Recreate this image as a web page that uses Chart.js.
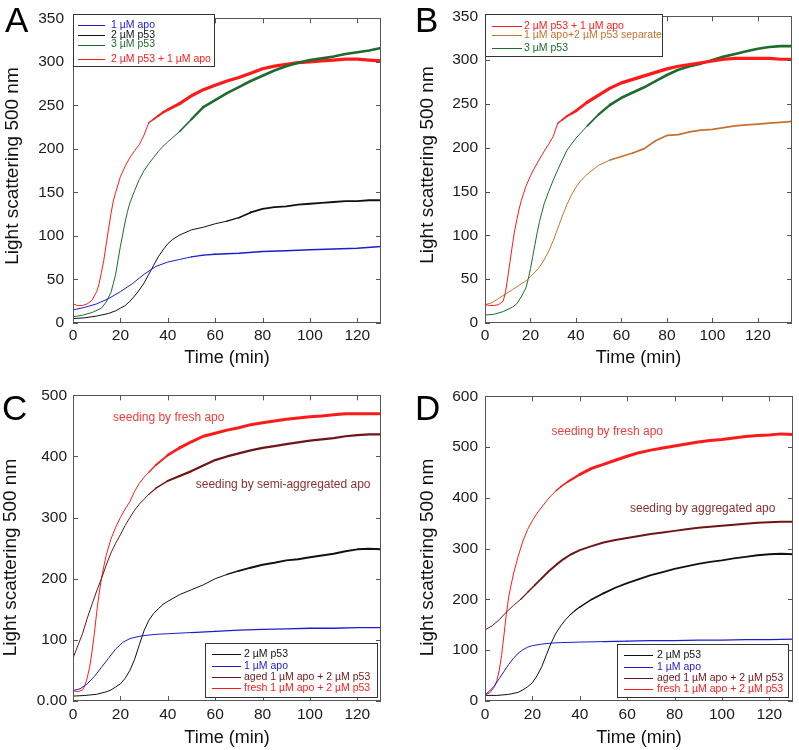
<!DOCTYPE html>
<html>
<head>
    <title>Light scattering kinetics</title>
    <style>
        body {
            margin: 0;
            background: #fff;
            font-family: "Liberation Sans", Arial, sans-serif;
        }

        #fig {
            position: relative;
            width: 799px;
            height: 750px;
            overflow: hidden;
        }

        #fig canvas {
            position: absolute;
        }

        .letter {
            position: absolute;
            font-size: 35px;
            line-height: 35px;
            color: #000;
        }
    </style>
</head>
<body>
    <div id="fig">
        <canvas id="chartA" width="400" height="369" style="left:0;top:0"></canvas>
        <canvas id="chartB" width="399" height="369" style="left:400px;top:0"></canvas>
        <canvas id="chartC" width="400" height="369" style="left:0;top:380px"></canvas>
        <canvas id="chartD" width="399" height="369" style="left:400px;top:380px"></canvas>
        <div class="letter" style="left:5px;top:2px">A</div>
        <div class="letter" style="left:415px;top:2px">B</div>
        <div class="letter" style="left:2px;top:390px">C</div>
        <div class="letter" style="left:415px;top:390px">D</div>
    </div>
    <script src="https://cdn.jsdelivr.net/npm/chart.js"></script>
    <script>
        // ---- panel A ----
        const aApoT = [0, 5, 10, 15, 20, 25, 30, 35, 40, 45, 50, 55, 60, 70, 80, 90, 100, 110, 120, 130];
        const aApo = [15, 18, 22, 28, 36, 45, 56, 65, 70, 73, 76, 78, 79, 80, 82, 83, 84, 85, 86, 88];
        const aP53T = [0, 5, 10, 15, 18, 20, 22, 24, 26, 28, 30, 32, 34, 36, 38, 40, 42, 45, 50, 55, 60, 65, 70, 75, 80, 85, 90, 95, 100, 105, 110, 115, 120, 125, 130];
        const aP53 = [5, 6, 8, 11, 14, 17, 20, 25, 31, 38, 46, 56, 66, 76, 84, 91, 96, 101, 107, 110, 114, 117, 121, 127, 131, 133, 134, 136, 137, 138, 139, 140, 140, 141, 141];
        const a3P53T = [0, 4, 8, 12, 14, 16, 17, 18, 19, 20, 21, 22, 23, 24, 26, 28, 30, 32, 34, 36, 38, 40, 45, 50, 55, 60, 65, 70, 75, 80, 85, 90, 95, 100, 105, 110, 115, 120, 125, 130];
        const a3P53 = [7, 9, 12, 17, 24, 35, 45, 56, 72, 88, 102, 116, 128, 138, 152, 165, 175, 183, 190, 197, 203, 208, 220, 234, 248, 256, 264, 271, 278, 284, 290, 295, 299, 302, 304, 306, 309, 311, 313, 316];
        const aMixT = [0, 2, 4, 6, 8, 10, 11, 12, 13, 14, 15, 16, 17, 18, 20, 22, 24, 26, 28, 30, 32, 34, 36, 38, 40, 45, 50, 55, 60, 65, 70, 75, 80, 85, 90, 95, 100, 105, 110, 115, 120, 125, 130];
        const aMix = [22, 20, 20, 22, 26, 36, 45, 58, 72, 90, 108, 125, 140, 150, 168, 180, 190, 198, 205, 216, 230, 234, 238, 242, 245, 252, 261, 268, 273, 278, 282, 287, 292, 295, 297, 299, 300, 301, 302, 303, 303, 302, 301];

        // ---- panel B ----
        const bMixT = [0, 2, 4, 6, 8, 9, 10, 11, 12, 13, 14, 15, 16, 17, 18, 20, 22, 24, 26, 28, 30, 32, 34, 36, 38, 40, 45, 50, 55, 60, 65, 70, 75, 80, 85, 90, 95, 100, 105, 110, 115, 120, 125, 130, 135];
        const bMix = [21, 20, 20, 21, 25, 35, 52, 70, 88, 105, 118, 130, 140, 148, 156, 168, 178, 187, 196, 204, 213, 228, 232, 236, 239, 242, 252, 260, 268, 274, 278, 282, 286, 290, 293, 295, 297, 299, 301, 302, 302, 302, 302, 301, 301];
        const bSepT = [0, 3, 6, 9, 12, 15, 18, 20, 22, 24, 26, 28, 30, 32, 34, 36, 38, 40, 42, 45, 50, 55, 60, 65, 70, 75, 80, 85, 90, 95, 100, 105, 110, 115, 120, 125, 130, 135];
        const bSep = [21, 23, 28, 33, 38, 43, 48, 53, 58, 64, 72, 82, 94, 108, 122, 135, 146, 155, 162, 170, 180, 186, 190, 194, 199, 208, 214, 215, 218, 220, 221, 223, 225, 226, 227, 228, 229, 230];
        const b3P53T = [0, 4, 8, 12, 14, 16, 18, 19, 20, 21, 22, 23, 24, 25, 26, 28, 30, 32, 34, 36, 38, 40, 45, 50, 55, 60, 65, 70, 75, 80, 85, 90, 95, 100, 105, 110, 115, 120, 125, 130, 135];
        const b3P53 = [9, 10, 13, 18, 22, 30, 40, 50, 62, 76, 90, 104, 116, 126, 136, 150, 163, 175, 186, 197, 204, 211, 225, 238, 249, 257, 263, 269, 276, 283, 289, 293, 296, 300, 304, 307, 310, 313, 315, 316, 316];

        // ---- panel C ----
        const cP53T = [0, 5, 10, 14, 16, 18, 20, 22, 24, 26, 28, 30, 32, 34, 36, 38, 40, 45, 50, 55, 60, 65, 70, 75, 80, 85, 90, 95, 100, 105, 110, 115, 120, 125, 130];
        const cP53 = [8, 9, 11, 15, 18, 23, 28, 37, 50, 68, 92, 115, 132, 143, 151, 158, 163, 174, 182, 190, 200, 207, 213, 218, 223, 226, 230, 232, 235, 238, 241, 245, 248, 249, 248];
        const cApoT = [0, 3, 6, 9, 12, 15, 18, 21, 24, 27, 30, 35, 40, 50, 60, 70, 80, 90, 100, 110, 120, 130];
        const cApo = [17, 20, 28, 40, 55, 70, 85, 96, 102, 105, 107, 109, 110, 112, 114, 116, 117, 118, 119, 119, 120, 120];
        const cAgedT = [0, 2, 4, 6, 8, 10, 12, 14, 16, 18, 20, 22, 24, 26, 28, 30, 32, 35, 40, 45, 50, 55, 60, 65, 70, 75, 80, 85, 90, 95, 100, 105, 110, 115, 120, 125, 130];
        const cAged = [70, 90, 110, 135, 158, 180, 200, 222, 242, 258, 272, 287, 300, 312, 322, 330, 338, 348, 360, 368, 376, 385, 394, 400, 405, 410, 414, 417, 420, 423, 426, 428, 430, 433, 435, 436, 436];
        const cFreshT = [0, 2, 4, 5, 6, 7, 8, 9, 10, 11, 12, 13, 14, 16, 18, 20, 22, 24, 26, 28, 30, 32, 35, 40, 45, 50, 55, 60, 65, 70, 75, 80, 85, 90, 95, 100, 105, 110, 115, 120, 125, 130];
        const cFresh = [17, 15, 18, 25, 38, 55, 80, 110, 145, 175, 200, 220, 238, 265, 284, 300, 314, 326, 343, 356, 366, 374, 386, 402, 414, 424, 433, 438, 443, 447, 452, 455, 458, 461, 463, 465, 466, 468, 470, 470, 470, 470];

        // ---- panel D ----
        const dP53T = [0, 5, 10, 14, 16, 18, 20, 22, 24, 26, 28, 30, 32, 34, 36, 38, 40, 45, 50, 55, 60, 65, 70, 75, 80, 85, 90, 95, 100, 105, 110, 115, 120, 125, 130];
        const dP53 = [11, 11, 13, 17, 22, 28, 36, 50, 68, 92, 115, 134, 148, 160, 170, 178, 185, 200, 212, 223, 232, 240, 248, 254, 260, 265, 270, 274, 277, 281, 284, 287, 289, 290, 289];
        const dApoT = [0, 2, 4, 6, 8, 10, 12, 14, 16, 18, 20, 24, 28, 32, 40, 50, 60, 70, 80, 90, 100, 110, 120, 130];
        const dApo = [12, 20, 30, 44, 58, 72, 84, 94, 101, 106, 109, 112, 114, 115, 116, 117, 118, 119, 119, 120, 120, 121, 121, 122];
        const dAgedT = [0, 3, 6, 9, 12, 15, 18, 21, 24, 27, 30, 33, 36, 40, 45, 50, 55, 60, 65, 70, 75, 80, 85, 90, 95, 100, 105, 110, 115, 120, 125, 130];
        const dAged = [140, 148, 160, 175, 188, 200, 214, 228, 242, 256, 268, 279, 288, 297, 305, 312, 317, 321, 325, 329, 332, 335, 338, 341, 343, 345, 347, 349, 351, 352, 353, 353];
        const dFreshT = [0, 2, 4, 5, 6, 7, 8, 9, 10, 11, 12, 14, 16, 18, 20, 22, 24, 26, 28, 30, 32, 35, 40, 45, 50, 55, 60, 65, 70, 75, 80, 85, 90, 95, 100, 105, 110, 115, 120, 125, 130];
        const dFresh = [12, 16, 28, 40, 60, 90, 130, 170, 205, 228, 250, 285, 315, 338, 355, 370, 382, 394, 405, 414, 422, 432, 446, 458, 466, 474, 482, 489, 494, 498, 502, 506, 510, 513, 515, 518, 521, 523, 524, 526, 525];

        const BLUE = '#1c1cd0';
        const BLACK = '#111111';
        const GREEN = '#1e6b2e';
        const RED = '#ff1a1a';
        const ORANGE = '#c8702e';
        const MAROON = '#6e1616';
        const FONT = '"Liberation Sans", Arial, sans-serif';
        const Y_TITLE = 'Light scattering 500 nm';

        Chart.defaults.font.family = FONT;

        // the noisy part of a trace (from time `from` on) is drawn as a wider band,
        // widening over ~12 min like the scatter in the recorded traces
        function series(label, t, v, color, from, band) {
            return {
                label: label,
                data: t.map((x, i) => ({ x: x, y: v[i] })),
                borderColor: color,
                backgroundColor: color,
                borderWidth: 1,
                pointRadius: 0,
                tension: 0,
                fill: false,
                borderCapStyle: 'round',
                borderJoinStyle: 'round',
                segment: {
                    borderWidth: ctx => {
                        if (from === undefined) return 1;
                        const k = Math.min(Math.max((ctx.p0.parsed.x - from) / 12, 0), 1);
                        return 1 + (band - 1) * k;
                    }
                }
            };
        }

        // box frame with inward ticks on all four sides
        const frameTicks = {
            id: 'frameTicks',
            afterDatasetsDraw(chart) {
                const { ctx, chartArea: a, scales } = chart;
                ctx.save();
                ctx.strokeStyle = '#555';
                ctx.lineWidth = 1;
                ctx.strokeRect(Math.round(a.left) + 0.5, Math.round(a.top) + 0.5,
                    Math.round(a.width) - 1, Math.round(a.height) - 1);
                ctx.beginPath();
                scales.x.ticks.forEach(t => {
                    const px = Math.round(scales.x.getPixelForValue(t.value)) + 0.5;
                    ctx.moveTo(px, a.bottom); ctx.lineTo(px, a.bottom - 5);
                    ctx.moveTo(px, a.top); ctx.lineTo(px, a.top + 5);
                });
                scales.y.ticks.forEach(t => {
                    const py = Math.round(scales.y.getPixelForValue(t.value)) + 0.5;
                    ctx.moveTo(a.left, py); ctx.lineTo(a.left + 5, py);
                    ctx.moveTo(a.right, py); ctx.lineTo(a.right - 5, py);
                });
                ctx.stroke();
                ctx.restore();
            }
        };

        // rotated y axis title, placed where the figure has it
        const yTitle = {
            id: 'yTitle',
            afterDraw(chart, args, opts) {
                const ctx = chart.ctx;
                ctx.save();
                ctx.translate(opts.x, opts.y);
                ctx.rotate(-Math.PI / 2);
                ctx.font = '19px ' + FONT;
                ctx.fillStyle = '#111';
                ctx.textAlign = 'center';
                ctx.textBaseline = 'middle';
                ctx.fillText(Y_TITLE, 0, 0);
                ctx.restore();
            }
        };

        // legend drawn inside a framed box
        const boxLegend = {
            id: 'boxLegend',
            afterDraw(chart, args, opts) {
                if (!opts.box) return;
                const ctx = chart.ctx;
                const [x0, y0, x1, y1] = opts.box;
                ctx.save();
                ctx.fillStyle = '#fff';
                ctx.fillRect(x0, y0, x1 - x0, y1 - y0);
                ctx.strokeStyle = '#333';
                ctx.lineWidth = 1;
                ctx.strokeRect(x0 + 0.5, y0 + 0.5, x1 - x0 - 1, y1 - y0 - 1);
                ctx.beginPath();
                ctx.rect(x0, y0, x1 - x0 - 1, y1 - y0);
                ctx.clip();
                ctx.font = '10.5px ' + FONT;
                ctx.textBaseline = 'middle';
                ctx.textAlign = 'left';
                chart.data.datasets.forEach((ds, r) => {
                    const y = Math.round(opts.rows[r]) + 0.5;
                    ctx.strokeStyle = ds.borderColor;
                    ctx.beginPath();
                    ctx.moveTo(opts.line[0], y);
                    ctx.lineTo(opts.line[1], y);
                    ctx.stroke();
                    ctx.fillStyle = ds.borderColor;
                    ctx.fillText(ds.label, opts.textX, opts.rows[r]);
                });
                ctx.restore();
            }
        };

        // free text notes placed in data coordinates
        const notes = {
            id: 'notes',
            afterDraw(chart, args, opts) {
                if (!opts.items) return;
                const { ctx, scales } = chart;
                ctx.save();
                ctx.font = '12px ' + FONT;
                ctx.textBaseline = 'middle';
                ctx.textAlign = 'left';
                opts.items.forEach(n => {
                    ctx.fillStyle = n.color;
                    ctx.fillText(n.text, scales.x.getPixelForValue(n.x), scales.y.getPixelForValue(n.y));
                });
                ctx.restore();
            }
        };

        function makePanel(id, cfg) {
            return new Chart(document.getElementById(id), {
                type: 'line',
                data: { datasets: cfg.datasets },
                plugins: [frameTicks, boxLegend, notes, yTitle],
                options: {
                    responsive: false,
                    animation: false,
                    events: [],
                    layout: { padding: cfg.padding },
                    scales: {
                        x: {
                            type: 'linear',
                            min: 0,
                            max: cfg.xMax,
                            grid: { display: false, drawTicks: false },
                            border: { display: false },
                            ticks: {
                                stepSize: 20,
                                includeBounds: false,
                                padding: cfg.xTickPad,
                                maxRotation: 0,
                                color: '#1a1a1a',
                                font: { size: 15.5 }
                            },
                            title: {
                                display: true,
                                text: 'Time (min)',
                                color: '#111',
                                font: { size: 18 },
                                padding: { top: 0, bottom: 0 }
                            },
                            afterFit(s) { s.height = cfg.xAxisH; }
                        },
                        y: {
                            type: 'linear',
                            min: 0,
                            max: cfg.yMax,
                            grid: { display: false, drawTicks: false },
                            border: { display: false },
                            ticks: {
                                stepSize: cfg.yStep,
                                includeBounds: false,
                                padding: cfg.yTickPad,
                                color: '#1a1a1a',
                                font: { size: 15.5 },
                                callback: cfg.yLabel || (v => v)
                            },
                            afterFit(s) { s.width = cfg.yAxisW; }
                        }
                    },
                    plugins: {
                        legend: { display: false },
                        tooltip: { enabled: false },
                        boxLegend: cfg.legend,
                        notes: { items: cfg.notes },
                        yTitle: cfg.yTitleAt
                    }
                }
            });
        }

        makePanel('chartA', {
            datasets: [
                series('1 µM apo', aApoT, aApo, BLUE, 45, 1.5),
                series('2 µM p53', aP53T, aP53, BLACK, 60, 1.8),
                series('3 µM p53', a3P53T, a3P53, GREEN, 40, 2.6),
                series('2 µM p53 + 1 µM apo', aMixT, aMix, RED, 30, 3.2)
            ],
            xMax: 130, yMax: 350, yStep: 50,
            padding: { top: 14, right: 19, left: 0, bottom: 0 },
            yAxisW: 73, xAxisH: 46, xTickPad: 3, yTickPad: 9,
            yTitleAt: { x: 12.5, y: 166 },
            legend: { box: [73, 14, 215, 67], rows: [25, 35, 44.5, 59], line: [78, 105], textX: 111 }
        });

        makePanel('chartB', {
            datasets: [
                series('2 µM p53 + 1 µM apo', bMixT, bMix, RED, 30, 3.2),
                series('1 µM apo+2 µM p53 separate', bSepT, bSep, ORANGE, 50, 1.8),
                series('3 µM p53', b3P53T, b3P53, GREEN, 40, 2.6)
            ],
            xMax: 135, yMax: 350, yStep: 50,
            padding: { top: 14, right: 7, left: 0, bottom: 0 },
            yAxisW: 85, xAxisH: 46, xTickPad: 3, yTickPad: 7,
            yTitleAt: { x: 27.5, y: 165 },
            legend: { box: [85, 14, 263, 57], rows: [25.7, 35, 47.7], line: [92, 122], textX: 124 }
        });

        makePanel('chartC', {
            datasets: [
                series('2 µM p53', cP53T, cP53, BLACK, 60, 2),
                series('1 µM apo', cApoT, cApo, BLUE, 40, 1.3),
                series('aged 1 µM apo + 2 µM p53', cAgedT, cAged, MAROON, 30, 2.2),
                series('fresh 1 µM apo + 2 µM p53', cFreshT, cFresh, RED, 30, 3)
            ],
            xMax: 130, yMax: 500, yStep: 100,
            padding: { top: 13, right: 19, left: 0, bottom: 0 },
            yAxisW: 73, xAxisH: 48, xTickPad: 4, yTickPad: 6,
            yTitleAt: { x: 11, y: 177.5 },
            yLabel: v => (v === 0 ? '0.00' : v),
            legend: { box: [205, 263, 378, 318], rows: [274.3, 286, 297.3, 308.3], line: [212, 241], textX: 244 },
            notes: [
                { text: 'seeding by fresh apo', x: 16.9, y: 464, color: '#f03c3c' },
                { text: 'seeding by semi-aggregated apo', x: 51.8, y: 354, color: '#8a3030' }
            ]
        });

        makePanel('chartD', {
            datasets: [
                series('2 µM p53', dP53T, dP53, BLACK, 34, 1.8),
                series('1 µM apo', dApoT, dApo, BLUE, 40, 1.3),
                series('aged 1 µM apo + 2 µM p53', dAgedT, dAged, MAROON, 12, 2),
                series('fresh 1 µM apo + 2 µM p53', dFreshT, dFresh, RED, 28, 3)
            ],
            xMax: 130, yMax: 600, yStep: 100,
            padding: { top: 13, right: 6, left: 0, bottom: 0 },
            yAxisW: 85, xAxisH: 48, xTickPad: 4, yTickPad: 7,
            yTitleAt: { x: 27.5, y: 177.5 },
            legend: { box: [217, 264, 389, 318], rows: [275, 286.7, 297.7, 309], line: [224, 253], textX: 257 },
            notes: [
                { text: 'seeding by fresh apo', x: 28.1, y: 531, color: '#f03c3c' },
                { text: 'seeding by aggregated apo', x: 61.2, y: 379, color: '#8a3030' }
            ]
        });
    </script>
</body>
</html>
